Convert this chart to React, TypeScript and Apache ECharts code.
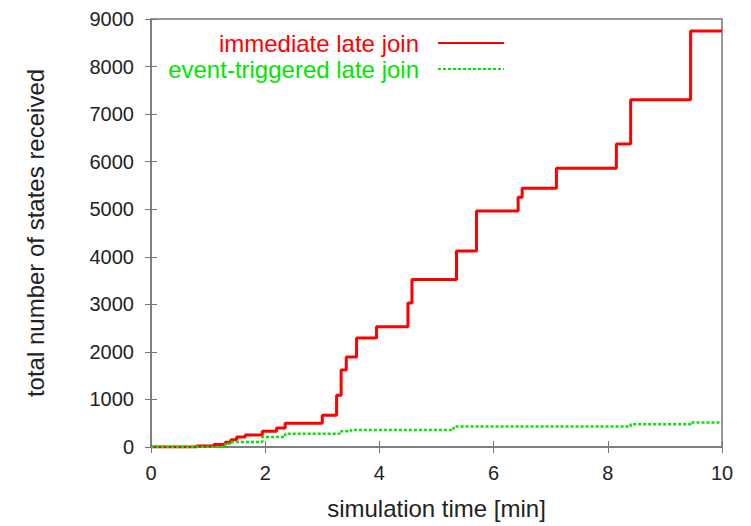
import React, { useEffect, useRef } from "react";
import * as echarts from "echarts";

const immediateX = [0, 0.8, 1.1, 1.3, 1.4, 1.5, 1.65, 1.95, 2.2, 2.35, 3.0, 3.25, 3.33, 3.42, 3.6, 3.95, 4.5, 4.57, 5.35, 5.7, 6.43, 6.5, 7.1, 8.15, 8.4, 9.45, 10];
const immediateY = [0, 20, 50, 100, 150, 210, 250, 330, 400, 500, 670, 1090, 1620, 1890, 2290, 2530, 3030, 3520, 4120, 4960, 5250, 5440, 5860, 6370, 7300, 8750, 8750];
const eventX = [0, 1.3, 1.4, 1.95, 2.35, 3.3, 3.5, 5.3, 8.4, 9.45, 10];
const eventY = [0, 70, 105, 210, 280, 330, 360, 430, 480, 515, 515];
const xTicks = [0, 2, 4, 6, 8, 10];
const yTicks = [0, 1000, 2000, 3000, 4000, 5000, 6000, 7000, 8000, 9000];

const seriesNames = ["immediate late join", "event-triggered late join"];
const FONT = "Liberation Sans, Arial, sans-serif";
const TEXT = "#222";
const FRAME = "#777";
const RED = "#ff0000";
const GREEN = "#00e600";

export default function App() {
  const ref = useRef<HTMLDivElement>(null);
  useEffect(() => {
    if (!ref.current) return;
    const chart = echarts.init(ref.current, null, { renderer: "svg" });
    const tickStyle = { show: true, inside: true, length: 6, lineStyle: { color: FRAME, width: 1 } };
    const legendBase = {
      right: 246, align: "right", itemWidth: 66, itemHeight: 14, itemGap: 0, padding: 0,
      itemStyle: { opacity: 0 },
      textStyle: { fontSize: 24, fontFamily: FONT, padding: [0, 14, 0, 0] },
    };
    chart.setOption({
      animation: false,
      textStyle: { fontFamily: FONT },
      grid: { left: 151, right: 29, top: 19, bottom: 79, show: true, borderColor: FRAME, borderWidth: 1.5 },
      legend: [
        { ...legendBase, top: 31, data: [{ name: seriesNames[0], textStyle: { color: RED } }] },
        { ...legendBase, top: 57, data: [{ name: seriesNames[1], textStyle: { color: GREEN } }] },
      ],
      xAxis: [
        {
          type: "value", min: 0, max: 10, interval: 2,
          name: "simulation time [min]", nameLocation: "middle", nameGap: 49,
          nameTextStyle: { fontSize: 24, color: TEXT, fontFamily: FONT },
          axisLine: { show: true, lineStyle: { color: FRAME, width: 1.5 } },
          axisTick: tickStyle,
          axisLabel: { fontSize: 20, color: TEXT, margin: 16, fontFamily: FONT, formatter: (v: number) => (xTicks.includes(v) ? String(v) : "") },
          splitLine: { show: false },
        },
        {
          type: "value", min: 0, max: 10, interval: 2, position: "top",
          axisLine: { show: false }, axisTick: tickStyle, axisLabel: { show: false }, splitLine: { show: false },
        },
      ],
      yAxis: [
        {
          type: "value", min: 0, max: 9000, interval: 1000,
          name: "total number of states received", nameLocation: "middle", nameGap: 104,
          nameTextStyle: { fontSize: 24, color: TEXT, fontFamily: FONT },
          axisLine: { show: true, lineStyle: { color: FRAME, width: 1.5 } },
          axisTick: tickStyle,
          axisLabel: { fontSize: 20, color: TEXT, margin: 17, fontFamily: FONT, formatter: (v: number) => (yTicks.includes(v) ? String(v) : "") },
          splitLine: { show: false },
        },
        {
          type: "value", min: 0, max: 9000, interval: 1000, position: "right",
          axisLine: { show: false }, axisTick: tickStyle, axisLabel: { show: false }, splitLine: { show: false },
        },
      ],
      series: [
        {
          name: seriesNames[0], type: "line", step: "end", showSymbol: false, symbol: "none",
          data: immediateX.map((x, i) => [x, immediateY[i]]),
          lineStyle: { color: RED, width: 3 }, itemStyle: { color: RED }, z: 3,
        },
        {
          name: seriesNames[1], type: "line", step: "end", showSymbol: false, symbol: "none",
          data: eventX.map((x, i) => [x, eventY[i]]),
          lineStyle: { color: GREEN, width: 2.5, type: [3, 2] }, itemStyle: { color: GREEN }, z: 4,
        },
      ],
    });
    return () => chart.dispose();
  }, []);
  return <div ref={ref} style={{ width: 751, height: 526, position: "absolute", left: 0, top: 0 }} />;
}
